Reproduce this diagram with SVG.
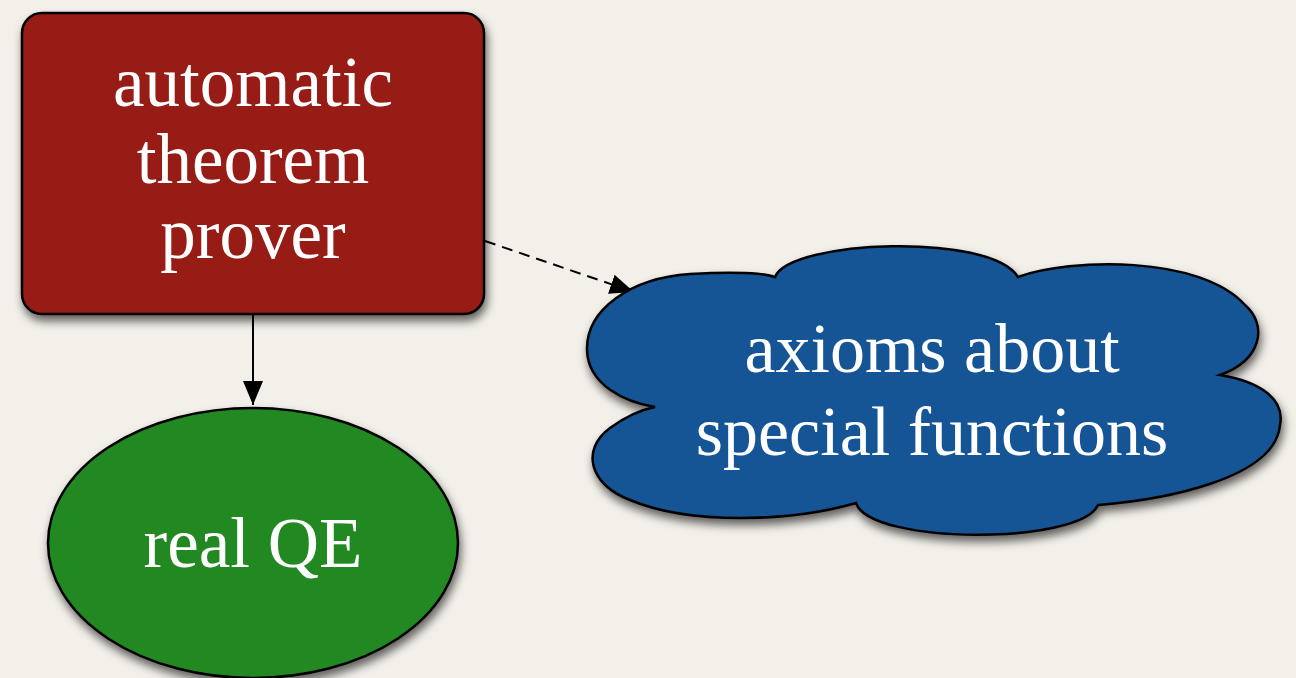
<svg xmlns="http://www.w3.org/2000/svg" width="1296" height="678" viewBox="0 0 1296 678">
<defs>
<filter id="sh" x="-10%" y="-10%" width="125%" height="130%">
<feDropShadow dx="2" dy="6" stdDeviation="5" flood-color="#000" flood-opacity="0.6"/>
</filter>
<marker id="ah2" viewBox="0 0 24 20" refX="24" refY="10" markerWidth="24" markerHeight="20" markerUnits="userSpaceOnUse" orient="auto">
<path d="M0,0 L24,10 L0,20 z" fill="#000"/>
</marker>
</defs>
<style>
.lbl{font-family:"Liberation Serif","Times New Roman",serif;font-size:71px;fill:#fff;text-anchor:middle}
.shape{stroke:#000;stroke-width:2.5}
.edge{stroke:#000;stroke-width:2;fill:none}
</style>
<rect width="1296" height="678" fill="#f3f0ea"/>
<g id="connectors">
<line class="edge" x1="253" y1="315" x2="253" y2="405" marker-end="url(#ah2)"/>
<line class="edge" x1="485" y1="241" x2="634" y2="292" stroke-dasharray="11,7" marker-end="url(#ah2)"/>
</g>
<g id="node-atp">
<rect class="shape" x="22" y="13" width="462" height="301" rx="20" fill="#981c15" filter="url(#sh)"/>
<text class="lbl" x="253" y="106">automatic</text>
<text class="lbl" x="253" y="183">theorem</text>
<text class="lbl" x="253" y="258">prover</text>
</g>
<g id="node-qe">
<ellipse class="shape" cx="253" cy="543" rx="205" ry="135" fill="#228822" filter="url(#sh)"/>
<text class="lbl" x="253" y="567">real QE</text>
</g>
<g id="node-axioms">
<path class="shape" fill="#135595" filter="url(#sh)" d="M655 407 C625 402 588 385 587 350 C586 310 630 278 690 274 C730 272 760 272 775 277 C790 240 990 232 1018 277 C1070 258 1200 255 1245 305 C1268 325 1262 360 1220 375 C1262 382 1285 400 1280 425 C1275 480 1160 500 1098 505 C1080 545 870 545 856 503 C790 522 690 525 630 500 C590 485 580 450 610 428 C625 417 640 410 655 407 Z"/>
<text class="lbl" x="932" y="372" style="font-size:70px">axioms about</text>
<text class="lbl" x="932" y="455" style="font-size:70px">special functions</text>
</g>
</svg>
